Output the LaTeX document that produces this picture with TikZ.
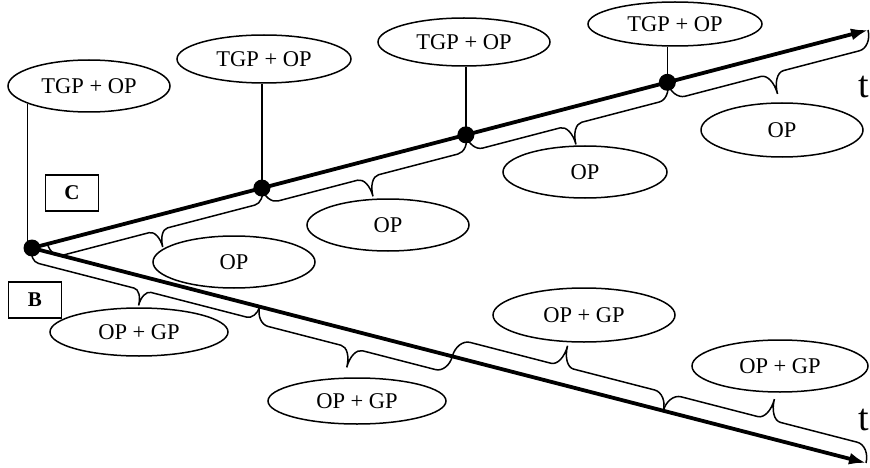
\documentclass[tikz,border=0pt]{standalone}
\usepackage{fontspec}
\setmainfont{Liberation Serif}
\usetikzlibrary{shapes.geometric,decorations,decorations.pathreplacing,arrows.meta,calc}
\pgfdeclaredecoration{mybrace}{brace}{%
 \state{brace}[width=+\pgfdecoratedremainingdistance,next state=final]{%
  \pgfpathmoveto{\pgfpointorigin}%
  \pgfpathcurveto{\pgfqpoint{0pt}{.25\pgfdecorationsegmentamplitude}}{\pgfqpoint{.16\pgfdecorationsegmentamplitude}{.46\pgfdecorationsegmentamplitude}}{\pgfqpoint{.35\pgfdecorationsegmentamplitude}{.46\pgfdecorationsegmentamplitude}}%
  {\pgftransformxshift{+\pgfdecorationsegmentaspect\pgfdecoratedremainingdistance}%
   \pgfpathlineto{\pgfqpoint{-.3\pgfdecorationsegmentamplitude}{.46\pgfdecorationsegmentamplitude}}%
   \pgfpathcurveto{\pgfqpoint{-.13\pgfdecorationsegmentamplitude}{.46\pgfdecorationsegmentamplitude}}{\pgfqpoint{0pt}{.7\pgfdecorationsegmentamplitude}}{\pgfqpoint{0pt}{\pgfdecorationsegmentamplitude}}%
   \pgfpathcurveto{\pgfqpoint{0pt}{.7\pgfdecorationsegmentamplitude}}{\pgfqpoint{.13\pgfdecorationsegmentamplitude}{.46\pgfdecorationsegmentamplitude}}{\pgfqpoint{.3\pgfdecorationsegmentamplitude}{.46\pgfdecorationsegmentamplitude}}%
  }%
  {\pgftransformxshift{+\pgfdecoratedremainingdistance}%
   \pgfpathlineto{\pgfqpoint{-.35\pgfdecorationsegmentamplitude}{.46\pgfdecorationsegmentamplitude}}%
   \pgfpathcurveto{\pgfqpoint{-.16\pgfdecorationsegmentamplitude}{.46\pgfdecorationsegmentamplitude}}{\pgfqpoint{0pt}{.25\pgfdecorationsegmentamplitude}}{\pgfpointorigin}%
  }%
 }%
 \state{final}{}%
}
\begin{document}
\begin{tikzpicture}[x=1pt,y=-1pt,
 lab/.style={ellipse,draw,line width=1.5pt,inner sep=0pt,font=\fontsize{22.5}{25}\selectfont},
 axisline/.style={line width=3.8pt,-{Latex[length=17pt,width=12pt]}},
 dot/.style={circle,fill,inner sep=0pt,minimum size=17pt},
 thin/.style={line width=1.5pt},
 brc/.style={decorate,decoration={mybrace,amplitude=#1},line width=1.5pt},
 brcm/.style={decorate,decoration={mybrace,amplitude=#1,mirror},line width=1.5pt},
 box/.style={draw,line width=1.5pt,minimum width=53pt,minimum height=36pt,inner sep=0pt,font=\bfseries\fontsize{21}{23}\selectfont},
 tlab/.style={font=\fontsize{38}{40}\selectfont,anchor=base east,inner sep=0pt}]
\useasboundingbox (0,0) rectangle (870,468);
% axes geometry
\coordinate (O) at (32,248);
\coordinate (U) at (868,30);
\coordinate (L) at (866,463);
\coordinate (D1) at ($(O)!0.275!(U)$);
\coordinate (D2) at ($(O)!0.519!(U)$);
\coordinate (D3) at ($(O)!0.760!(U)$);
\coordinate (P1) at ($(O)!0.273!(L)$);
\coordinate (P2) at ($(O)!0.504!(L)$);
\coordinate (P3) at ($(O)!0.757!(L)$);
% ellipses
\node[lab,minimum width=162pt,minimum height=52pt] (e1) at (89,86) {TGP + OP};
\node[lab,minimum width=174pt,minimum height=48pt] (e2) at (264,59) {TGP + OP};
\node[lab,minimum width=172pt,minimum height=48pt] (e3) at (464,42) {TGP + OP};
\node[lab,minimum width=174pt,minimum height=44pt] (e4) at (675,24) {TGP + OP};
\node[lab,minimum width=162pt,minimum height=52pt] (o1) at (234,262) {OP};
\node[lab,minimum width=162pt,minimum height=52pt] (o2) at (388,225) {OP};
\node[lab,minimum width=164pt,minimum height=52pt] (o3) at (585,172) {OP};
\node[lab,minimum width=162pt,minimum height=54pt] (o4) at (782,130) {OP};
\node[lab,minimum width=178pt,minimum height=48pt] (g1) at (139,332) {OP + GP};
\node[lab,minimum width=178pt,minimum height=46pt] (g2) at (357,401) {OP + GP};
\node[lab,minimum width=182pt,minimum height=54pt] (g3) at (584,315) {OP + GP};
\node[lab,minimum width=176pt,minimum height=52pt] (g4) at (780,366) {OP + GP};
% boxes
\node[box] (C) at (72,193) {C};
\node[box] (B) at (35,300) {B};
% t labels
\node[tlab] (t1) at (869,98) {t};
\node[tlab] (t2) at (869,430) {t};
% braces upper (below axis)
\draw[brcm=32pt] ($(O)!16pt!(D1)$) -- (D1);
\draw[brcm=36pt] (D1) -- (D2);
\draw[brcm=37pt] (D2) -- (D3);
\draw[brcm=39pt] (D3) -- (U);
% braces lower
\draw[brcm=29pt] (O) -- (P1);
\draw[brcm=37pt] (P1) -- (P2);
\draw[brc=39pt] (P2) -- (P3);
\draw[brc=39pt] (P3) -- (L);
% vertical connectors
\draw[thin] (e1.196.5) -- (e1.196.5 |- O);
\draw[thin] (D1) -- (D1 |- e2.south);
\draw[thin] (D2) -- (D2 |- e3.south);
\draw[thin] (D3) -- (D3 |- e4.south);
% axes
\draw[axisline] (O) -- (U);
\draw[axisline] (O) -- (L);
% dots
\node[dot] (d0) at (O) {};
\node[dot] (d1) at (D1) {};
\node[dot] (d2) at (D2) {};
\node[dot] (d3) at (D3) {};
\end{tikzpicture}
\end{document}
